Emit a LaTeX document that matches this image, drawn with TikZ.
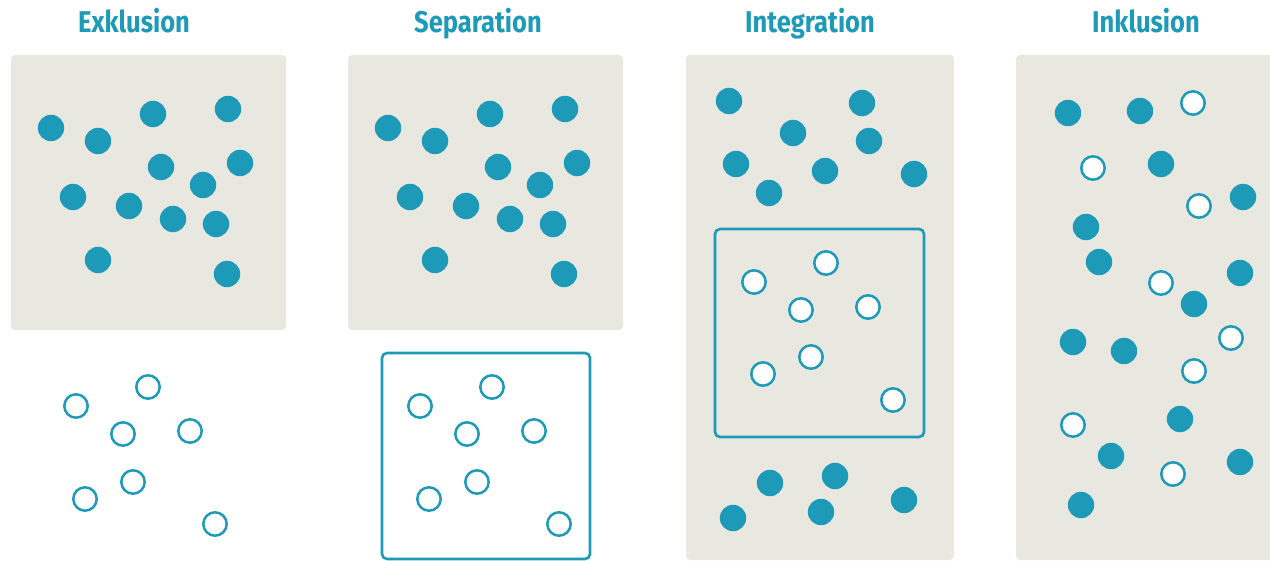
\documentclass[tikz,border=0pt]{standalone}
\usepackage{fontspec}
\newfontfamily\titlefont[FakeStretch=0.85]{Fira Sans}
\definecolor{teal}{RGB}{28,154,183}
\definecolor{paper}{RGB}{232,231,224}
\tikzset{
  panel/.style={fill=paper, draw=none, rounded corners=2pt},
  frame/.style={draw=teal, line width=1.3pt, rounded corners=2.5pt},
  dot/.style={fill=teal, draw=none},
  ring/.style={draw=teal, fill=white, line width=1.25pt},
  heading/.style={anchor=base, text=teal, font=\titlefont\bfseries\fontsize{15}{18}\selectfont, inner sep=0pt}
}

\begin{document}
\begin{tikzpicture}[x=0.5pt, y=-0.5pt]
			%%%%% START %%%%%
			\useasboundingbox (0, 0) rectangle (1270, 561);
			
			\node[heading] (exkl) at (134, 33) {Exklusion};
			\node[heading] (sepa) at (478, 33) {Separation};
			\node[heading] (inte) at (810, 33) {Integration};
			\node[heading] (inkl) at (1146, 33) {Inklusion};
			
			%%%%% panels %%%%%
			\draw[panel] (11, 55) rectangle (286, 330);
			\draw[panel] (348, 55) rectangle (623, 330);
			\draw[panel] (686, 55) rectangle (954, 560);
			\draw[panel] (1016, 55) rectangle (1274, 560);
			
			\draw[frame] (382, 353) rectangle (590, 559);
			\draw[frame] (715, 229) rectangle (924, 437);
			
			%%%%% Exklusion and Separation %%%%%
			\foreach \dx in {0, 337}
			\foreach \x/\y in {51/128, 98/141, 153/114, 228/109, 161/167, 240/163, 203/185,
			                   73/197, 129/206, 173/219, 216/224, 98/260, 227/274}
			  \fill[dot] (\x+\dx, \y) circle[radius=6.6pt];
			
			\foreach \dx in {0, 344}
			\foreach \x/\y in {76/406, 148/387, 123/434, 190/431, 85/499, 133/482, 215/524}
			  \draw[ring] (\x+\dx, \y) circle[radius=5.85pt];
			
			%%%%% Integration %%%%%
			\foreach \x/\y in {729/101, 862/103, 793/133, 869/141, 736/164, 825/171, 914/174, 769/193,
			                   770/483, 835/476, 733/518, 821/512, 904/500}
			  \fill[dot] (\x, \y) circle[radius=6.6pt];
			\foreach \x/\y in {754/282, 826/263, 801/310, 868/307, 763/374, 811/357, 893/400}
			  \draw[ring] (\x, \y) circle[radius=5.85pt];
			
			%%%%% Inklusion %%%%%
			\foreach \x/\y in {1068/113, 1140/111, 1161/164, 1243/197, 1086/227, 1099/262, 1240/273,
			                   1194/304, 1073/342, 1124/351, 1180/419, 1111/456, 1240/462, 1081/505}
			  \fill[dot] (\x, \y) circle[radius=6.6pt];
			\foreach \x/\y in {1193/103, 1093/168, 1199/206, 1161/283, 1231/338, 1194/371, 1073/425, 1173/474}
			  \draw[ring] (\x, \y) circle[radius=5.85pt];
			%%%%% END %%%%%
\end{tikzpicture}
\end{document}
